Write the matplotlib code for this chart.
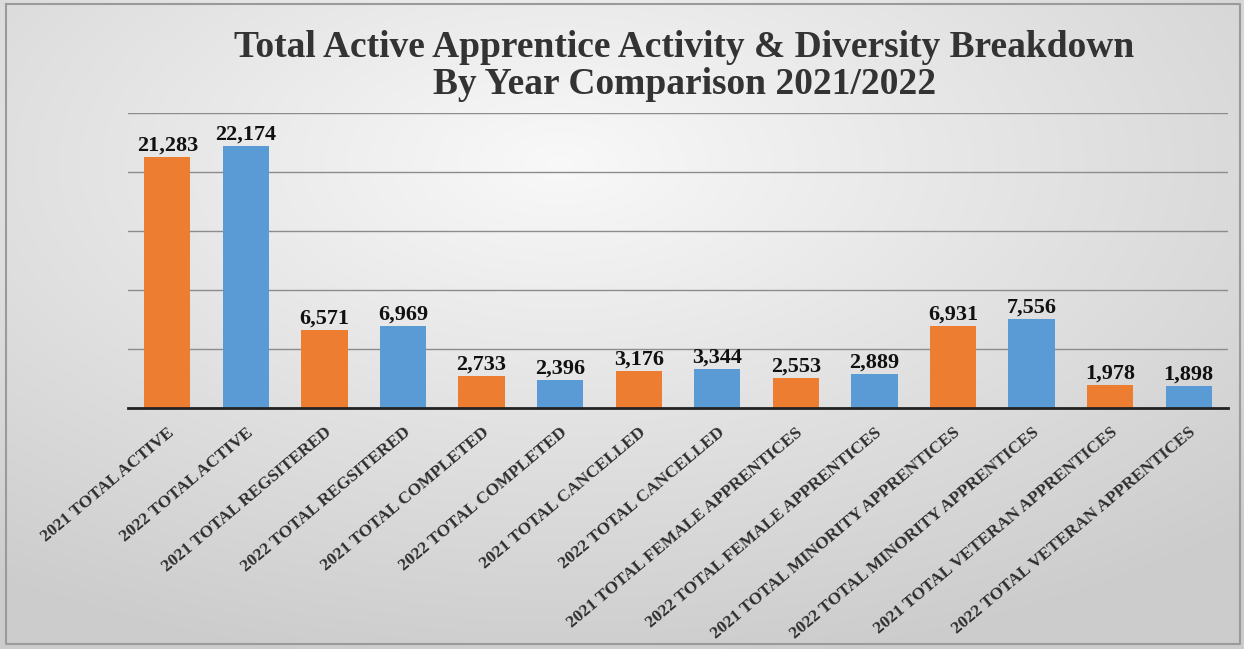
import numpy as np
import matplotlib.pyplot as plt
import matplotlib.transforms as mtransforms

categories = ["2021 TOTAL ACTIVE", "2022 TOTAL ACTIVE", "2021 TOTAL REGSITERED", "2022 TOTAL REGSITERED",
              "2021 TOTAL COMPLETED", "2022 TOTAL COMPLETED", "2021 TOTAL CANCELLED", "2022 TOTAL CANCELLED",
              "2021 TOTAL FEMALE APPRENTICES", "2022 TOTAL FEMALE APPRENTICES",
              "2021 TOTAL MINORITY APPRENTICES", "2022 TOTAL MINORITY APPRENTICES",
              "2021 TOTAL VETERAN APPRENTICES", "2022 TOTAL VETERAN APPRENTICES"]
values = [21283, 22174, 6571, 6969, 2733, 2396, 3176, 3344, 2553, 2889, 6931, 7556, 1978, 1898]
title = "Total Active Apprentice Activity & Diversity Breakdown\nBy Year Comparison 2021/2022"

orange = "#ED7D31"
blue = "#5B9BD5"
colors = [orange if c.startswith("2021") else blue for c in categories]

W, H = 1244, 649
fig = plt.figure(figsize=(W/100, H/100), dpi=100)

# background radial gradient
bg = fig.add_axes([0, 0, 1, 1])
yy, xx = np.mgrid[0:H, 0:W]
cx, cy = W*0.45, H*0.25
r = np.sqrt(((xx-cx)/W)**2 + ((yy-cy)/H)**2)
g = np.clip(0.975 - 0.22*r, 0.80, 0.975)
img = np.dstack([g, g, g])
bg.imshow(img, extent=[0, W, H, 0], aspect='auto')
bg.set_xlim(0, W); bg.set_ylim(H, 0)
bg.axis('off')
# frame
bg.plot([6, W-4, W-4, 6, 6], [4, 4, H-5, H-5, 4], color="#9a9a9a", lw=1.5)

ax = fig.add_axes([128/W, 1-408/H, 1100/W, (408-113)/H])
ax.patch.set_alpha(0)
x = np.arange(len(values))
bars = ax.bar(x, values, width=0.59, color=colors, zorder=3)
ax.set_xlim(-0.5, len(values)-0.5)
ax.set_ylim(0, 25000)
ax.set_yticks(np.arange(0, 25001, 5000))
ax.yaxis.grid(True, color="#8c8c8c", lw=1, zorder=0)
ax.tick_params(axis='y', length=0, labelleft=False)
for s in ['top', 'right', 'left']:
    ax.spines[s].set_visible(False)
ax.spines['bottom'].set_color("#222222")
ax.spines['bottom'].set_linewidth(2)
ax.spines['bottom'].set_zorder(4)
ax.set_xticks(x)
ax.set_xticklabels(categories, rotation=40, ha='right', rotation_mode='anchor',
                   fontsize=12.5, fontweight='bold', family='Liberation Serif', color="#2e2e2e")
for lbl in ax.get_xticklabels():
    lbl.set_transform(lbl.get_transform() + mtransforms.ScaledTranslation(-9/100, 0, fig.dpi_scale_trans))
ax.tick_params(axis='x', length=0, pad=12)

for xi, v in zip(x, values):
    ax.annotate(f"{v:,}", (xi, v), xytext=(0, 1), textcoords='offset points',
                ha='center', va='bottom', fontsize=16, fontweight='bold',
                family='Liberation Serif', color="#111111")

fig.text(0.55, 1-66/H, title, ha='center', va='center', fontsize=27, fontweight='bold',
         family='Liberation Serif', color="#333333", linespacing=1.1)

fig.savefig("out.png", dpi=100)
